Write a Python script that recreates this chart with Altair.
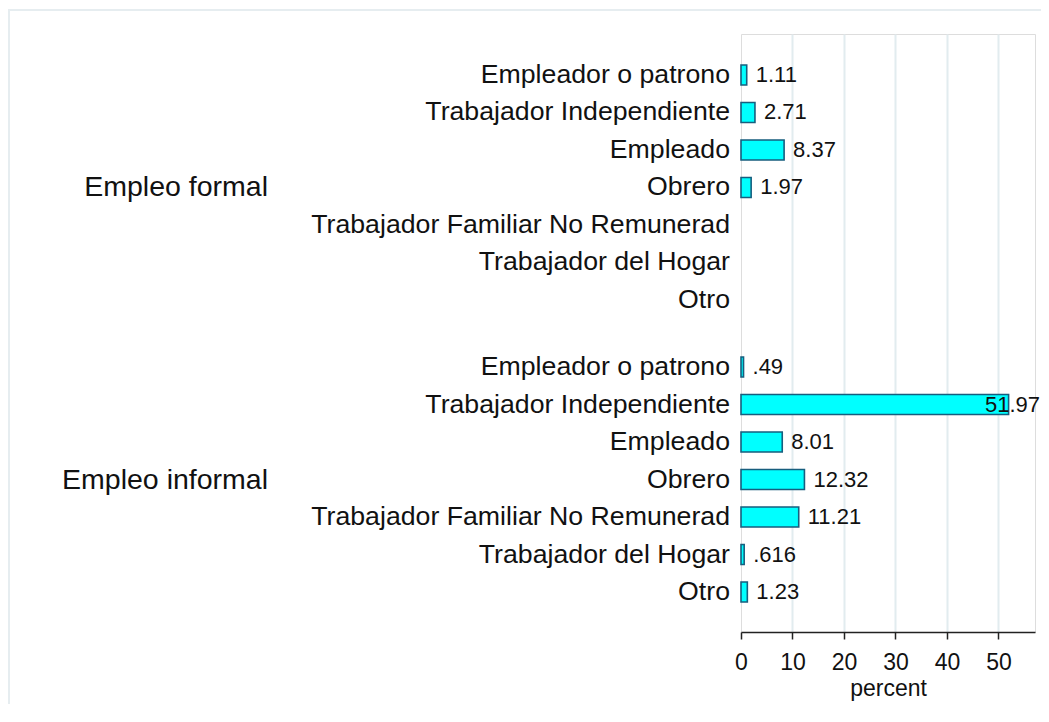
import altair as alt
import pandas as pd

groups = ["Empleo formal", "Empleo informal"]
categories = [
    "Empleador o patrono",
    "Trabajador Independiente",
    "Empleado",
    "Obrero",
    "Trabajador Familiar No Remunerad",
    "Trabajador del Hogar",
    "Otro",
]
formal_values = [1.11, 2.71, 8.37, 1.97, None, None, None]
formal_labels = ["1.11", "2.71", "8.37", "1.97", "", "", ""]
informal_values = [0.49, 51.97, 8.01, 12.32, 11.21, 0.616, 1.23]
informal_labels = [".49", "51.97", "8.01", "12.32", "11.21", ".616", "1.23"]
x_ticks = [0, 10, 20, 30, 40, 50]

GAP = 0.787  # extra space between the two groups, in rows
rows = []
for gi, (g, vals, labs) in enumerate([(groups[0], formal_values, formal_labels),
                                      (groups[1], informal_values, informal_labels)]):
    for ci, (c, v, l) in enumerate(zip(categories, vals, labs)):
        rows.append({"group": g, "category": c, "percent": v, "label": l,
                     "pos": gi * (len(categories) + GAP) + ci})
df = pd.DataFrame(rows)
group_df = pd.DataFrame({"group": groups,
                         "pos": [3, len(categories) + GAP + 3]})

W, H = 294, 598
FONT = "Liberation Sans"
yscale = alt.Scale(domain=[-1.093, 14.853], reverse=True, nice=False, zero=False, padding=0)
xscale = alt.Scale(domain=[0, 57.1], nice=False, zero=True, padding=0)

base = alt.Chart(df)

bars = base.transform_filter("isValid(datum.percent)").mark_bar(
    orient="horizontal", size=20, fill="#00FFFF", stroke="#175E7E", strokeWidth=1.6
).encode(
    x=alt.X("percent:Q", scale=xscale,
            axis=alt.Axis(values=x_ticks, title="percent", labelFontSize=23,
                          titleFontSize=23, labelFont=FONT, titleFont=FONT,
                          labelColor="#111111", titleColor="#111111",
                          titleFontWeight="normal", domainColor="#222222",
                          domainWidth=1.5, tickColor="#222222", tickWidth=1.5,
                          tickSize=7, labelPadding=12, titlePadding=3,
                          gridColor="#e2ecef", gridWidth=2,
                          gridOpacity={"condition": {"test": "datum.value === 0", "value": 0}, "value": 1},
                          labelFlush=False)),
    y=alt.Y("pos:Q", scale=yscale, axis=None),
)

vals_small = base.transform_filter("isValid(datum.percent) && datum.percent < 40").mark_text(
    align="left", baseline="middle", dx=9, fontSize=22, font=FONT, color="#111111"
).encode(x=alt.X("percent:Q", scale=xscale), y=alt.Y("pos:Q", scale=yscale), text="label:N")

vals_big = base.transform_filter("isValid(datum.percent) && datum.percent >= 40").mark_text(
    align="right", baseline="middle", dx=5, fontSize=22, font=FONT, color="#111111"
).encode(x=alt.value(W), y=alt.Y("pos:Q", scale=yscale), text="label:N")

cat_labels = base.mark_text(
    align="right", baseline="middle", dx=-11, fontSize=26.7, font=FONT, color="#111111"
).encode(x=alt.value(0), y=alt.Y("pos:Q", scale=yscale), text="category:N")

grp_labels = alt.Chart(group_df).mark_text(
    align="right", baseline="middle", fontSize=28.5, font=FONT, color="#111111"
).encode(x=alt.value(-473), y=alt.Y("pos:Q", scale=yscale), text="group:N")

frame = alt.Chart(alt.Data(values=[{}])).mark_rect(
    fillOpacity=0, stroke="#e6edf0", strokeWidth=2
).encode(x=alt.value(-732), x2=alt.value(W + 40), y=alt.value(-24), y2=alt.value(H + 120))

chart = alt.layer(frame, bars, vals_small, vals_big, cat_labels, grp_labels).properties(
    width=W, height=H,
    autosize=alt.AutoSizeParams(type="none"),
    padding={"left": 733, "top": 26, "right": 6, "bottom": 72},
).configure_view(stroke=None).configure(background="white")

chart.save("out.html", embed_options={"renderer": "svg", "actions": False})
